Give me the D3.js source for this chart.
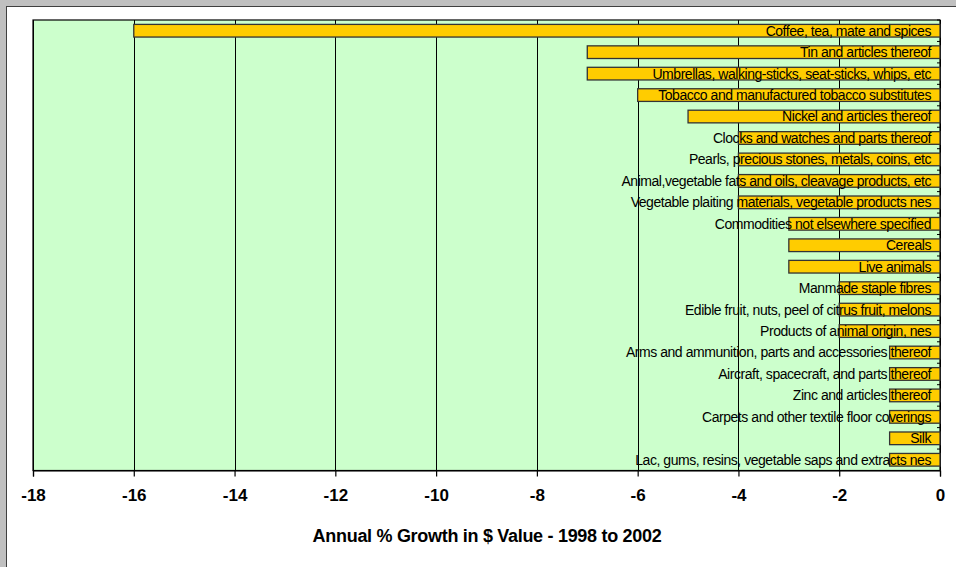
<!DOCTYPE html>
<html>
<head>
<meta charset="utf-8">
<script src="https://cdn.jsdelivr.net/npm/d3@7"></script>
<style>
  html, body { margin: 0; padding: 0; background: #c0c0c0; }
  svg { display: block; }
</style>
</head>
<body>
<svg id="chart" width="956" height="567"></svg>
<script>
// Product groups, top to bottom
const categories = [
  "Coffee, tea, mate and spices",
  "Tin and articles thereof",
  "Umbrellas, walking-sticks, seat-sticks, whips, etc",
  "Tobacco and manufactured tobacco substitutes",
  "Nickel and articles thereof",
  "Clocks and watches and parts thereof",
  "Pearls, precious stones, metals, coins, etc",
  "Animal,vegetable fats and oils, cleavage products, etc",
  "Vegetable plaiting materials, vegetable products nes",
  "Commodities not elsewhere specified",
  "Cereals",
  "Live animals",
  "Manmade staple fibres",
  "Edible fruit, nuts, peel of citrus fruit, melons",
  "Products of animal origin, nes",
  "Arms and ammunition, parts and accessories thereof",
  "Aircraft, spacecraft, and parts thereof",
  "Zinc and articles thereof",
  "Carpets and other textile floor coverings",
  "Silk",
  "Lac, gums, resins, vegetable saps and extracts nes"
];

// Annual % growth in $ value, 1998 to 2002
const growth = [-16, -7, -7, -6, -5, -4, -4, -4, -4, -3, -3, -3, -2, -2, -2, -1, -1, -1, -1, -1, -1];

const xTicks = [-18, -16, -14, -12, -10, -8, -6, -4, -2, 0];
const axisTitle = "Annual % Growth in $ Value - 1998 to 2002";

const data = categories.map((c, i) => ({ name: c, value: growth[i] }));

const svg = d3.select("#chart");

// White chart panel with a thin dark edge
svg.append("rect")
  .attr("x", 6.5).attr("y", 6.5)
  .attr("width", 960).attr("height", 570)
  .attr("fill", "#ffffff")
  .attr("stroke", "#404040").attr("stroke-width", 1);

const plot = { left: 33, top: 20, right: 940, bottom: 470.5 };

const x = d3.scaleLinear().domain([-18, 0]).range([plot.left, plot.right]);
const y = d3.scaleBand().domain(categories).range([plot.top, plot.bottom]).paddingInner(0.41).paddingOuter(0.205);

// Plot background
svg.append("rect")
  .attr("x", plot.left).attr("y", plot.top)
  .attr("width", plot.right - plot.left).attr("height", plot.bottom - plot.top)
  .attr("fill", "#ccffcc");

// Vertical gridlines
svg.append("g")
  .selectAll("line")
  .data(xTicks)
  .join("line")
  .attr("x1", d => Math.round(x(d)) + 0.5).attr("x2", d => Math.round(x(d)) + 0.5)
  .attr("y1", plot.top).attr("y2", plot.bottom)
  .attr("stroke", "#000").attr("stroke-width", 1);

// Plot frame
svg.append("rect")
  .attr("x", plot.left).attr("y", plot.top)
  .attr("width", plot.right - plot.left).attr("height", plot.bottom - plot.top)
  .attr("fill", "none")
  .attr("stroke", "#000").attr("stroke-width", 1.2);

// Bars
svg.append("g")
  .selectAll("rect")
  .data(data)
  .join("rect")
  .attr("x", d => x(d.value))
  .attr("y", d => y(d.name))
  .attr("width", d => x(0) - x(d.value))
  .attr("height", y.bandwidth())
  .attr("fill", "#ffcc00")
  .attr("stroke", "#333333").attr("stroke-width", 1.3);

// Category axis along the zero line, small inward ticks at band boundaries
const step = y.step();
const bounds = d3.range(categories.length + 1).map(i => plot.top + i * step);
svg.append("g")
  .selectAll("line")
  .data(bounds)
  .join("line")
  .attr("x1", x(0) - 3).attr("x2", x(0))
  .attr("y1", d => d).attr("y2", d => d)
  .attr("stroke", "#000").attr("stroke-width", 1);

// Category labels, right-aligned near the zero line
svg.append("g")
  .selectAll("text")
  .data(data)
  .join("text")
  .attr("x", x(0) - 9)
  .attr("y", d => y(d.name) + y.bandwidth() / 2)
  .attr("dy", "0.35em")
  .attr("text-anchor", "end")
  .attr("font-family", "Arial, 'Liberation Sans', sans-serif")
  .attr("font-size", 14)
  .attr("letter-spacing", "-0.45px")
  .attr("fill", "#000")
  .text(d => d.name);

// Value axis at the bottom
const xAxis = d3.axisBottom(x).tickValues(xTicks).tickSize(6).tickPadding(12).tickFormat(d3.format("d"));
const gx = svg.append("g")
  .attr("transform", `translate(0,${plot.bottom})`)
  .call(xAxis);
gx.select(".domain").attr("stroke", "#000").attr("stroke-width", 1.2);
gx.selectAll(".tick line").attr("stroke", "#000").attr("stroke-width", 1.2);
gx.selectAll(".tick text")
  .attr("font-family", "Arial, 'Liberation Sans', sans-serif")
  .attr("font-size", 17)
  .attr("font-weight", "bold")
  .attr("fill", "#000")
  .text(d => d === 0 ? "0" : String(d).replace("\u2212", "-"));

// Axis title
svg.append("text")
  .attr("x", 487)
  .attr("y", 542)
  .attr("text-anchor", "middle")
  .attr("font-family", "Arial, 'Liberation Sans', sans-serif")
  .attr("font-size", 18)
  .attr("font-weight", "bold")
  .attr("letter-spacing", "-0.3px")
  .attr("fill", "#000")
  .text(axisTitle);
</script>
</body>
</html>
